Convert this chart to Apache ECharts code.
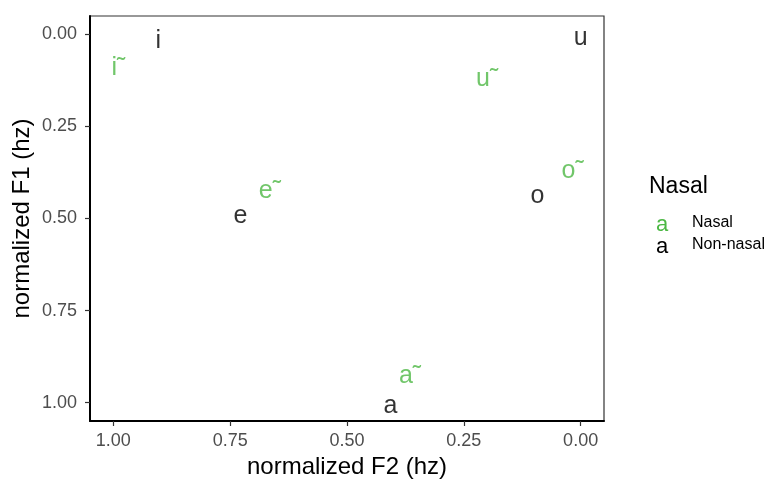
<!DOCTYPE html>
<html>
<head>
<meta charset="utf-8">
<script src="https://cdn.jsdelivr.net/npm/echarts@6/dist/echarts.min.js"></script>
<style>
html, body { margin: 0; padding: 0; background: #fff; }
#chart { width: 772px; height: 481px; }
</style>
</head>
<body>
<div id="chart"></div>
<script>
// vowel data: normalized F2 (x, reversed) and F1 (y, reversed)
var nasalLabels = ['i\u02DC', 'e\u02DC', 'a\u02DC', 'o\u02DC', 'u\u02DC'];
var nasalF2 = [0.989, 0.665, 0.365, 0.017, 0.200];
var nasalF1 = [0.082, 0.416, 0.916, 0.361, 0.110];

var oralLabels = ['i', 'e', 'a', 'o', 'u'];
var oralF2 = [0.904, 0.728, 0.407, 0.0925, 0.000];
var oralF1 = [0.006, 0.482, 1.000, 0.429, 0.000];

var tickValues = [0, 0.25, 0.5, 0.75, 1];

var GREEN = '#4DB845';
var FONT = 'Liberation Sans';

function makeData(f2, f1, labels) {
    var out = [];
    for (var i = 0; i < labels.length; i++) {
        out.push([f2[i], f1[i], labels[i]]);
    }
    return out;
}

function vowelSeries(name, data, color) {
    return {
        name: name,
        type: 'scatter',
        symbolSize: 1,
        itemStyle: { color: 'rgba(0,0,0,0)' },
        data: data,
        label: {
            show: true,
            position: 'inside',
            offset: [0, 4],
            formatter: function (p) { return p.data[2]; },
            color: color,
            fontSize: 25,
            fontFamily: FONT,
            align: 'center',
            verticalAlign: 'middle'
        },
        emphasis: { disabled: true }
    };
}

var chart = echarts.init(document.getElementById('chart'));

var axisCommon = {
    type: 'value',
    inverse: true,
    min: -0.05,
    max: 1.05,
    nameLocation: 'middle',
    nameMoveOverlap: false,
    nameTextStyle: { fontSize: 24, color: '#000', fontFamily: FONT },
    axisLine: { show: true, onZero: false, lineStyle: { color: '#000', width: 2 } },
    axisTick: { show: true, length: 5, customValues: tickValues, lineStyle: { color: '#333', width: 1.2 } },
    axisLabel: {
        customValues: tickValues,
        color: '#4D4D4D',
        fontSize: 18,
        fontFamily: FONT,
        formatter: function (v) { return v.toFixed(2); }
    },
    splitLine: { show: false }
};

var option = {
    animation: false,
    backgroundColor: '#fff',
    title: {
        text: 'Nasal',
        left: 644,
        top: 170,
        textStyle: { fontSize: 23, fontWeight: 'normal', color: '#000', fontFamily: FONT }
    },
    legend: {
        orient: 'vertical',
        left: 646,
        top: 209,
        icon: 'none',
        itemWidth: 0,
        itemGap: 0,
        selectedMode: false,
        data: ['Nasal', 'Non-nasal'],
        formatter: function (name) {
            return name === 'Nasal' ? '{g|a}{t|Nasal}' : '{k|a}{t|Non-nasal}';
        },
        textStyle: {
            rich: {
                g: { color: GREEN, fontSize: 22, lineHeight: 18, fontFamily: FONT, width: 36, align: 'left' },
                k: { color: '#000', fontSize: 22, lineHeight: 18, fontFamily: FONT, width: 36, align: 'left' },
                t: { color: '#000', fontSize: 16, lineHeight: 18, fontFamily: FONT, padding: [0, 0, 4, 0] }
            }
        }
    },
    grid: {
        left: 90,
        right: 168,
        top: 16,
        bottom: 60,
        outerBoundsMode: 'none',
        show: true,
        borderColor: '#333',
        borderWidth: 1.2,
        backgroundColor: '#fff'
    },
    xAxis: Object.assign({}, axisCommon, {
        position: 'bottom',
        name: 'normalized F2 (hz)',
        nameGap: 34,
        axisLabel: Object.assign({}, axisCommon.axisLabel, { margin: 11 })
    }),
    yAxis: Object.assign({}, axisCommon, {
        position: 'left',
        name: 'normalized F1 (hz)',
        nameGap: 56,
        axisLabel: Object.assign({}, axisCommon.axisLabel, { margin: 13 })
    }),
    series: [
        vowelSeries('Nasal', makeData(nasalF2, nasalF1, nasalLabels), GREEN),
        vowelSeries('Non-nasal', makeData(oralF2, oralF1, oralLabels), '#000')
    ]
};

chart.setOption(option);
</script>
</body>
</html>
